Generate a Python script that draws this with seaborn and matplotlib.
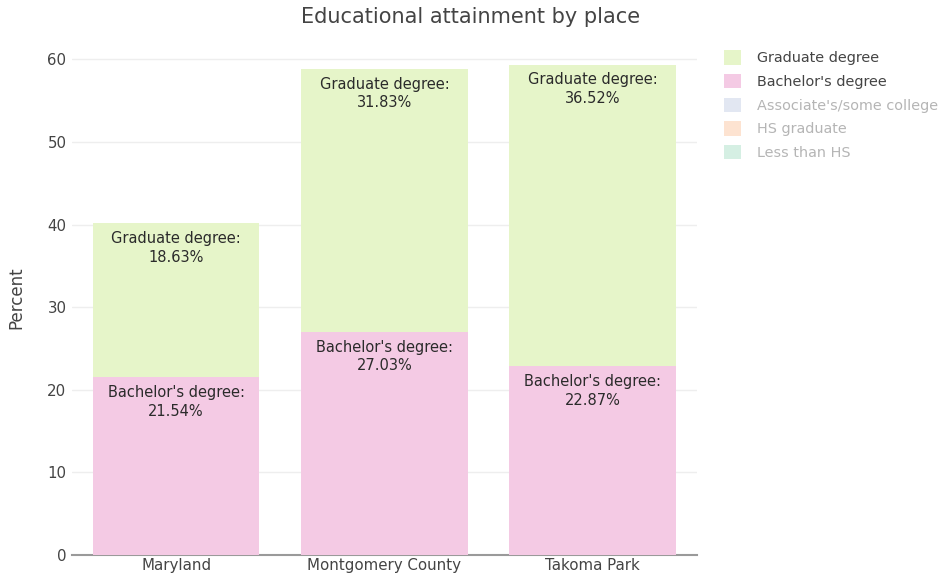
import matplotlib
matplotlib.use('Agg')
import matplotlib.pyplot as plt
import numpy as np
import pandas as pd
import seaborn as sns
from matplotlib.patches import Patch

places = ['Maryland', 'Montgomery County', 'Takoma Park']
bachelor = [21.54, 27.03, 22.87]
graduate = [18.63, 31.83, 36.52]

legend_labels = ['Graduate degree', "Bachelor's degree", "Associate's/some college",
                 'HS graduate', 'Less than HS']
legend_colors = ['#e6f5c9', '#f4cae4', '#cbd5e8', '#fdcdac', '#b3e2cd']
legend_visible = [True, True, False, False, False]

sns.set_theme(style='white')
plt.rcParams['font.family'] = ['DejaVu Sans']

df = pd.DataFrame({'place': places, 'bachelor': bachelor, 'graduate': graduate})
df['total'] = df['bachelor'] + df['graduate']

fig = plt.figure(figsize=(9.41, 5.77), dpi=100)
ax = fig.add_axes([0.0765, 0.0381, 0.664, 0.8926])

# stacked: draw totals in graduate colour, then bachelor's over the bottom part
sns.barplot(data=df, x='place', y='total', color=legend_colors[0], width=0.8,
            saturation=1, linewidth=0, ax=ax, zorder=2)
sns.barplot(data=df, x='place', y='bachelor', color=legend_colors[1], width=0.8,
            saturation=1, linewidth=0, ax=ax, zorder=3)

pad = 0.95
for i, row in df.iterrows():
    ax.text(i, row['total'] - pad, 'Graduate degree:\n%.2f%%' % row['graduate'],
            ha='center', va='top', fontsize=10.5, color='#2b2b2b', zorder=4,
            linespacing=1.3)
    ax.text(i, row['bachelor'] - pad, "Bachelor's degree:\n%.2f%%" % row['bachelor'],
            ha='center', va='top', fontsize=10.5, color='#2b2b2b', zorder=4,
            linespacing=1.3)

ax.set_xlim(-0.5, 2.5)
ax.set_ylim(0, 62.36)
ax.set_yticks(np.arange(0, 61, 10))
ax.yaxis.grid(True, color='#eeeeee', linewidth=1, zorder=0)
ax.set_axisbelow(True)
for side in ['top', 'right', 'left']:
    ax.spines[side].set_visible(False)
ax.spines['bottom'].set_color('#9a9a9a')
ax.spines['bottom'].set_linewidth(1.5)
ax.tick_params(axis='both', labelsize=10.8, colors='#444444', length=0, pad=4)
ax.tick_params(axis='x', pad=2)
ax.set_xlabel('')
ax.set_ylabel('Percent', fontsize=12, color='#444444', labelpad=16)

fig.text(0.5, 0.97, 'Educational attainment by place', ha='center', va='center',
         fontsize=15, color='#444444')

handles = []
for c, vis in zip(legend_colors, legend_visible):
    handles.append(Patch(facecolor=c, edgecolor='none', alpha=1.0 if vis else 0.55))
leg = fig.legend(handles, legend_labels, loc='upper left',
                 bbox_to_anchor=(0.763, 0.923), frameon=False, fontsize=10.4,
                 handlelength=1.2, handleheight=1.15, handletextpad=1.1,
                 labelspacing=0.6, borderaxespad=0)
for txt, vis in zip(leg.get_texts(), legend_visible):
    txt.set_color('#444444' if vis else '#b5b5b5')

fig.savefig('out.png', dpi=100)
